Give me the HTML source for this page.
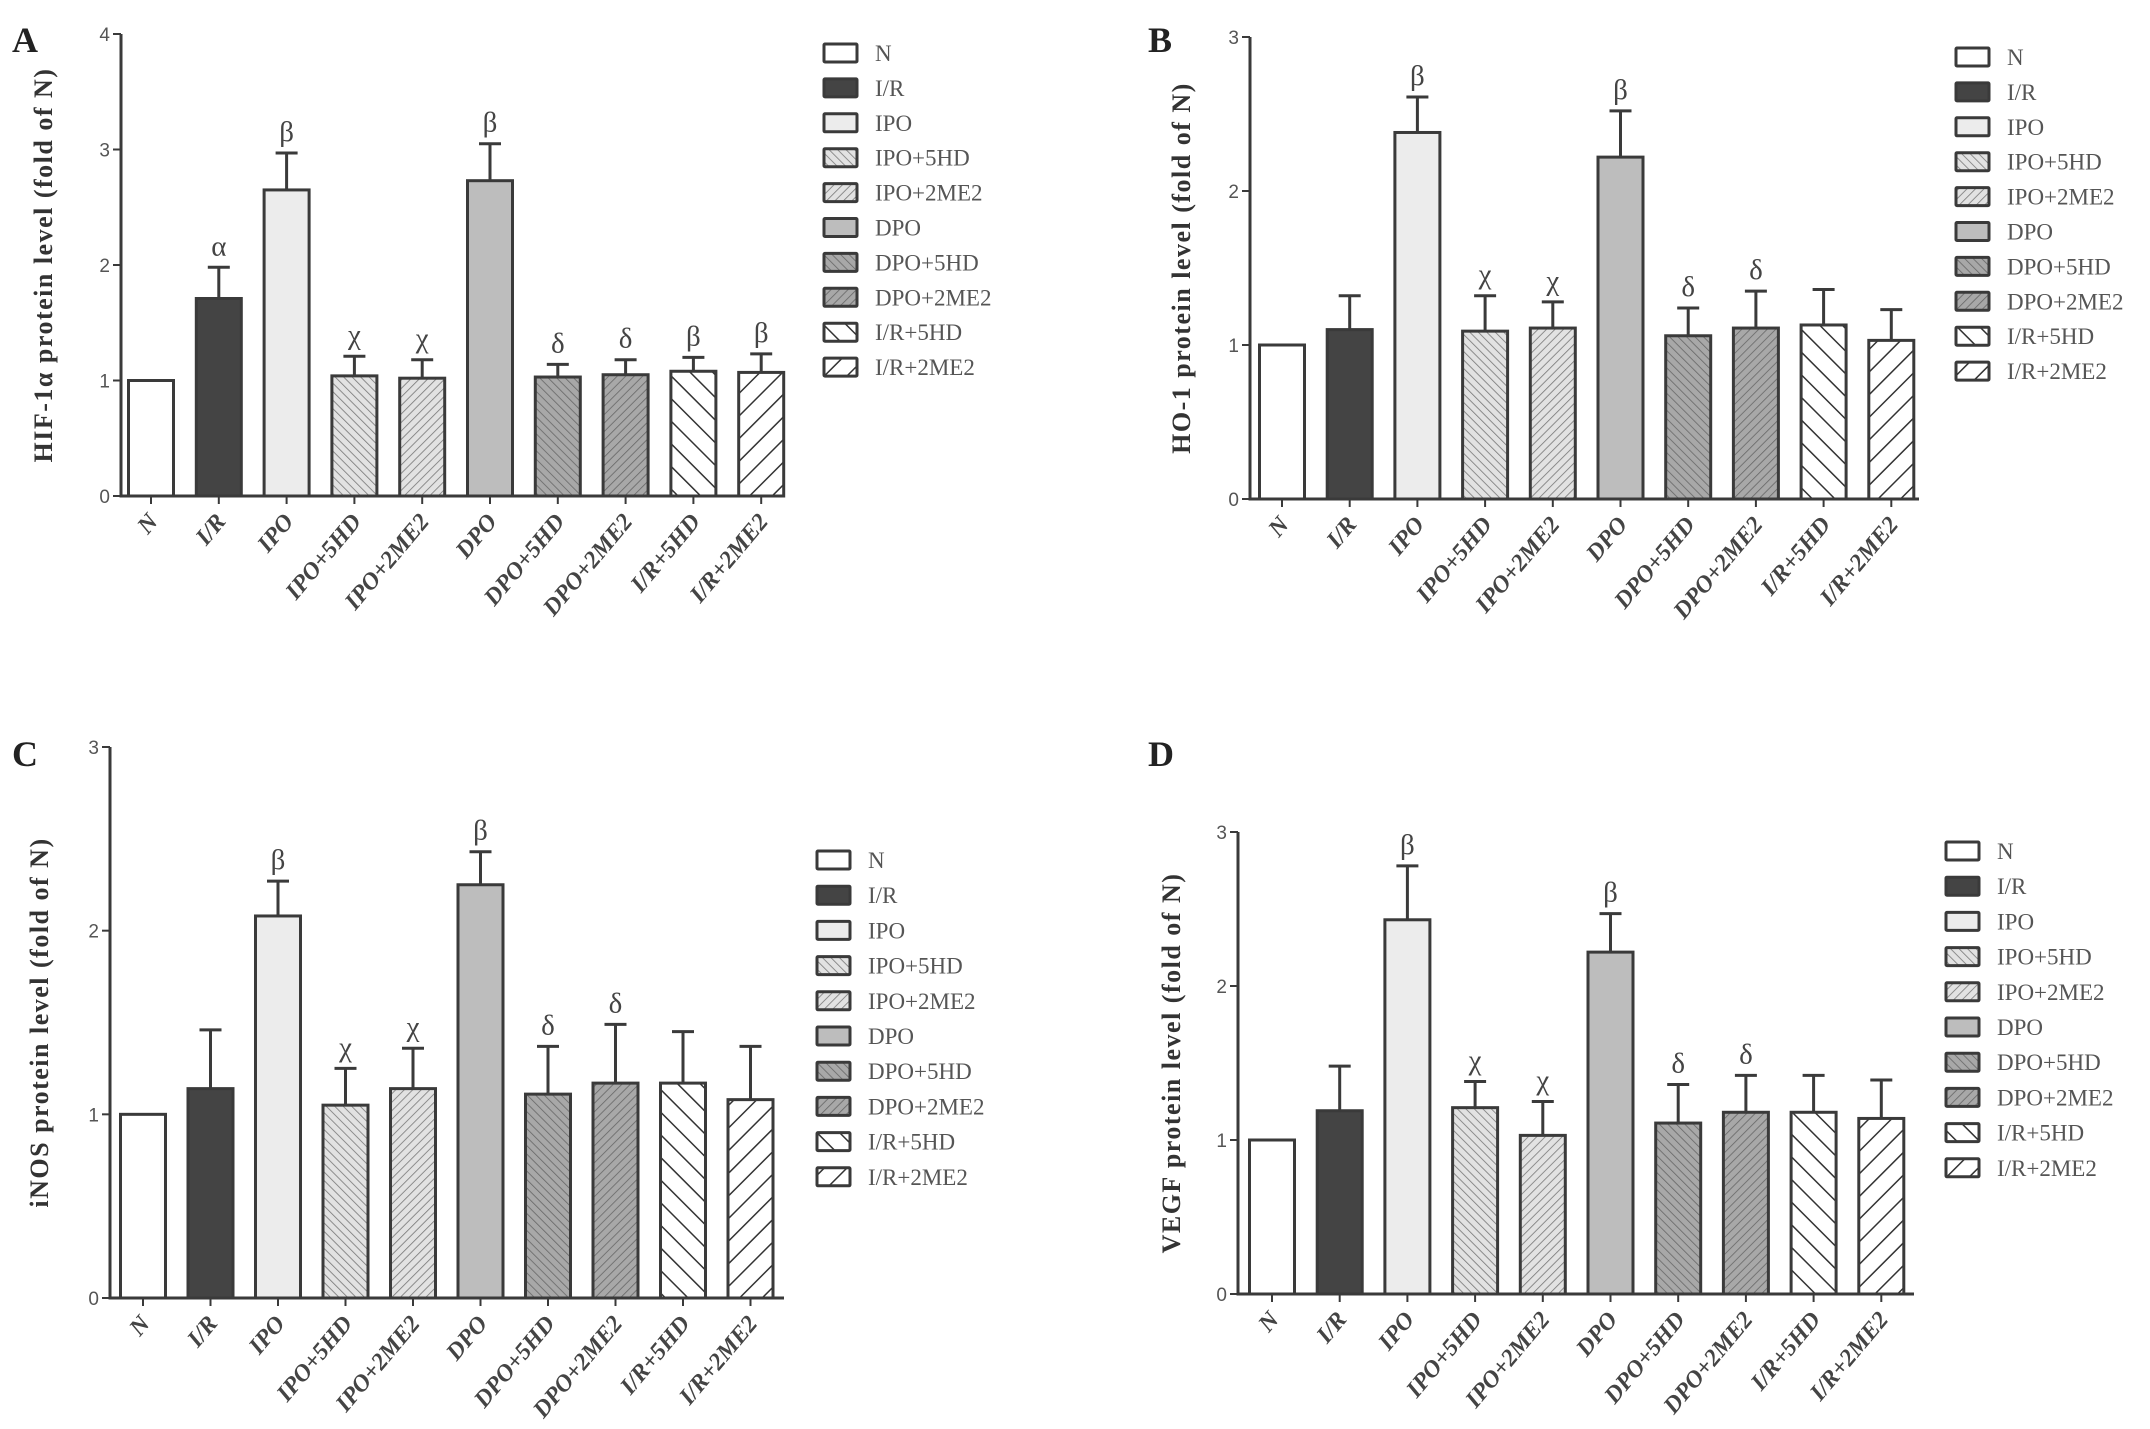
<!DOCTYPE html>
<html><head><meta charset="utf-8">
<style>
html,body{margin:0;padding:0;background:#fff;}
svg{display:block;}
</style></head>
<body>
<svg id="fig" width="2150" height="1429" viewBox="0 0 2150 1429" xmlns="http://www.w3.org/2000/svg">
<defs>
  <pattern id="p-ipo5" patternUnits="userSpaceOnUse" width="6" height="6" patternTransform="rotate(-45)"><rect width="6" height="6" fill="#e2e2e2"/><line x1="0" y1="0" x2="0" y2="6" stroke="#777" stroke-width="1.6"/></pattern>
  <pattern id="p-ipo2" patternUnits="userSpaceOnUse" width="6" height="6" patternTransform="rotate(45)"><rect width="6" height="6" fill="#e2e2e2"/><line x1="0" y1="0" x2="0" y2="6" stroke="#777" stroke-width="1.6"/></pattern>
  <pattern id="p-dpo5" patternUnits="userSpaceOnUse" width="6" height="6" patternTransform="rotate(-45)"><rect width="6" height="6" fill="#a8a8a8"/><line x1="0" y1="0" x2="0" y2="6" stroke="#666" stroke-width="1.6"/></pattern>
  <pattern id="p-dpo2" patternUnits="userSpaceOnUse" width="6" height="6" patternTransform="rotate(45)"><rect width="6" height="6" fill="#a8a8a8"/><line x1="0" y1="0" x2="0" y2="6" stroke="#666" stroke-width="1.6"/></pattern>
  <pattern id="p-ir5" patternUnits="userSpaceOnUse" width="16" height="16" patternTransform="rotate(-45)"><rect width="16" height="16" fill="#fff"/><line x1="0" y1="0" x2="0" y2="16" stroke="#333" stroke-width="3"/></pattern>
  <pattern id="p-ir2" patternUnits="userSpaceOnUse" width="16" height="16" patternTransform="rotate(45)"><rect width="16" height="16" fill="#fff"/><line x1="0" y1="0" x2="0" y2="16" stroke="#333" stroke-width="3"/></pattern>
</defs>
</svg>
<script>
const categories = ["N","I/R","IPO","IPO+5HD","IPO+2ME2","DPO","DPO+5HD","DPO+2ME2","I/R+5HD","I/R+2ME2"];
const fills = ["#ffffff","#444444","#ececec","url(#p-ipo5)","url(#p-ipo2)","#bdbdbd","url(#p-dpo5)","url(#p-dpo2)","url(#p-ir5)","url(#p-ir2)"];

const valuesA = [1, 1.71, 2.65, 1.04, 1.02, 2.73, 1.03, 1.05, 1.08, 1.07];
const errorsA = [1, 1.98, 2.97, 1.21, 1.18, 3.05, 1.14, 1.18, 1.20, 1.23];
const marksA  = ["", "α", "β", "χ", "χ", "β", "δ", "δ", "β", "β"];
const ticksA  = [0, 1, 2, 3, 4];

const valuesB = [1, 1.10, 2.38, 1.09, 1.11, 2.22, 1.06, 1.11, 1.13, 1.03];
const errorsB = [1, 1.32, 2.61, 1.32, 1.28, 2.52, 1.24, 1.35, 1.36, 1.23];
const marksB  = ["", "", "β", "χ", "χ", "β", "δ", "δ", "", ""];
const ticksB  = [0, 1, 2, 3];

const valuesC = [1, 1.14, 2.08, 1.05, 1.14, 2.25, 1.11, 1.17, 1.17, 1.08];
const errorsC = [1, 1.46, 2.27, 1.25, 1.36, 2.43, 1.37, 1.49, 1.45, 1.37];
const marksC  = ["", "", "β", "χ", "χ", "β", "δ", "δ", "", ""];
const ticksC  = [0, 1, 2, 3];

const valuesD = [1, 1.19, 2.43, 1.21, 1.03, 2.22, 1.11, 1.18, 1.18, 1.14];
const errorsD = [1, 1.48, 2.78, 1.38, 1.25, 2.47, 1.36, 1.42, 1.42, 1.39];
const marksD  = ["", "", "β", "χ", "χ", "β", "δ", "δ", "", ""];
const ticksD  = [0, 1, 2, 3];

const svg = document.getElementById('fig');
const NS = 'http://www.w3.org/2000/svg';
function mk(tag, attrs, parent){
  const e = document.createElementNS(NS, tag);
  for (const k in attrs) e.setAttribute(k, attrs[k]);
  (parent||svg).appendChild(e);
  return e;
}

function panel(cfg, values, errors, marks, ticks){
  const g = mk('g', {});
  
  
  const ymax = ticks[ticks.length-1];
  const yS = v => cfg.y0 - (v/ymax)*(cfg.y0-cfg.yTop);
  const xS = i => cfg.x1 + i*cfg.step;
  const bw = 45;
  const st = "#3a3a3a";

  const lt = mk('text', {x:cfg.lx, y:cfg.ly, 'font-family':'Liberation Serif, serif', 'font-weight':'bold', 'font-size':36, fill:'#222'}, g);
  lt.textContent = cfg.letter;
  
  

  values.forEach((v,i)=>{
    const cx = xS(i);
    const r = mk('rect', {x:cx-bw/2, y:yS(v), width:bw, height:cfg.y0-yS(v), fill:fills[i], stroke:st, 'stroke-width':3}, g);
    
    
    if (errors[i] > v + 0.001){
      const el = mk('path', {d:`M${cx} ${yS(v)}V${yS(errors[i])}M${cx-11} ${yS(errors[i])}H${cx+11}`, stroke:st, 'stroke-width':3, fill:'none'}, g);
      
      
    }
    if (marks[i]){
      const t = mk('text', {x:cx, y:yS(errors[i])-12, 'text-anchor':'middle', 'font-family':'Liberation Serif, serif', 'font-size':29, fill:'#444'}, g);
      t.textContent = marks[i];
      
      
    }
    const tk = mk('line', {x1:cx, y1:cfg.y0, x2:cx, y2:cfg.y0+8, stroke:st, 'stroke-width':2}, g);
    
    
    const xl = mk('text', {x:cx+8, y:cfg.y0+26, 'text-anchor':'end', transform:`rotate(-50 ${cx+8} ${cfg.y0+26})`, 'font-family':'Liberation Serif, serif', 'font-weight':'bold', 'font-style':'italic', 'font-size':24, fill:'#444'}, g);
    xl.textContent = categories[i];
    
    
  });

  const ya = mk('path', {d:`M${cfg.ax} ${cfg.yTop}V${cfg.y0}H${cfg.xEnd}`, stroke:st, 'stroke-width':3, fill:'none'}, g);
  
  
  ticks.forEach(t=>{
    const y = yS(t);
    const l = mk('line', {x1:cfg.ax-8, y1:y, x2:cfg.ax, y2:y, stroke:st, 'stroke-width':2}, g);
    
    
    const tx = mk('text', {x:cfg.ax-11, y:y+7, 'text-anchor':'end', 'font-family':'Liberation Sans, sans-serif', 'font-size':19, fill:'#555'}, g);
    tx.textContent = t;
    
    
  });
  const cy = (cfg.y0 + cfg.yTop)/2;
  const yt = mk('text', {x:cfg.titleX, y:cy, 'text-anchor':'middle', transform:`rotate(-90 ${cfg.titleX} ${cy})`, 'font-family':'Liberation Serif, serif', 'font-weight':'bold', 'font-size':26, fill:'#333', 'letter-spacing':'1.5'}, g);
  yt.textContent = cfg.title;
  
  

  categories.forEach((c,i)=>{
    const y = cfg.legY + i*cfg.legStep;
    const lg = mk('g', {}, g);
    
    
    mk('rect', {x:cfg.legX, y:y-9, width:33, height:18, fill:fills[i], stroke:st, 'stroke-width':3, rx:1}, lg);
    const t = mk('text', {x:cfg.legX+51, y:y+8, 'font-family':'Liberation Serif, serif', 'font-size':23, fill:'#555'}, lg);
    t.textContent = c;
  });
}

panel({letter:'A', lx:12, ly:52, ax:121, yTop:34, y0:496, xEnd:784, x1:151, step:67.8, titleX:52, title:'HIF-1α protein level (fold of N)', legX:824, legY:53, legStep:34.9}, valuesA, errorsA, marksA, ticksA);
panel({letter:'B', lx:1148, ly:52, ax:1250, yTop:37, y0:499, xEnd:1919, x1:1282, step:67.7, titleX:1190, title:'HO-1 protein level (fold of N)', legX:1956, legY:57, legStep:34.9}, valuesB, errorsB, marksB, ticksB);
panel({letter:'C', lx:12, ly:766, ax:110, yTop:747, y0:1298, xEnd:784, x1:143, step:67.5, titleX:48, title:'iNOS protein level (fold of N)', legX:817, legY:860, legStep:35.2}, valuesC, errorsC, marksC, ticksC);
panel({letter:'D', lx:1148, ly:766, ax:1238, yTop:832, y0:1294, xEnd:1914, x1:1272, step:67.7, titleX:1180, title:'VEGF protein level (fold of N)', legX:1946, legY:851, legStep:35.2}, valuesD, errorsD, marksD, ticksD);
</script>
</body></html>
